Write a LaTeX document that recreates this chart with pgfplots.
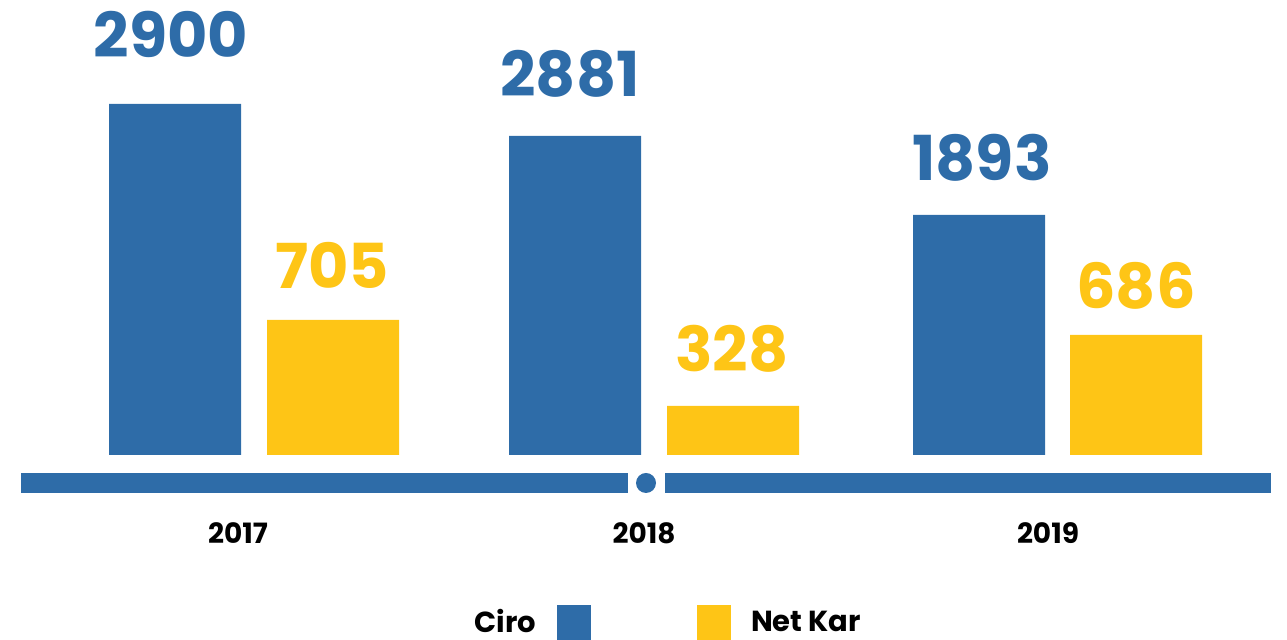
\documentclass[border=0pt]{standalone}
\usepackage{fontspec}
\setmainfont{Poppins}
\usepackage{pgfplots}
\pgfplotsset{compat=1.18}
\usepackage{pgfplotstable}
\definecolor{cblue}{RGB}{46,108,168}
\definecolor{cyellow}{RGB}{254,197,22}

% x = bar centre, h = drawn bar height, lx/ly = label centre, label = value shown
\pgfplotstableread{
x h lx ly label
175 351 171 420.5 2900
575 319 570 381 2881
979 240 982 297.5 1893
}\ciro
\pgfplotstableread{
x h lx ly label
333 135 332 189.5 705
733 49 732 106 328
1136 120 1136 169.5 686
}\netkar

\begin{document}
\begin{tikzpicture}
\begin{axis}[
  x=0.5pt, y=0.5pt,
  xmin=0, xmax=1287, ymin=-185, ymax=455,
  hide axis, clip=false,
]
\addplot[ybar, bar width=132, bar shift=0pt, fill=cblue, draw=none] table[x=x,y=h]{\ciro};
\addplot[ybar, bar width=132, bar shift=0pt, fill=cyellow, draw=none] table[x=x,y=h]{\netkar};
\addplot[draw=none, nodes near coords, point meta=explicit symbolic,
  nodes near coords align={center},
  every node near coord/.append style={font=\bfseries\fontsize{31}{31}\selectfont, text=cblue, inner sep=0pt}]
  table[x=lx,y=ly,meta=label]{\ciro};
\addplot[draw=none, nodes near coords, point meta=explicit symbolic,
  nodes near coords align={center},
  every node near coord/.append style={font=\bfseries\fontsize{31}{31}\selectfont, text=cyellow, inner sep=0pt}]
  table[x=lx,y=ly,meta=label]{\netkar};
% baseline with dot
\fill[cblue] (axis cs:21,-18) rectangle (axis cs:628,-38);
\fill[cblue] (axis cs:665,-18) rectangle (axis cs:1271,-38);
\fill[cblue] (axis cs:646,-28) circle[radius=5pt];
% year labels
\node[font=\bfseries\fontsize{14}{14}\selectfont, inner sep=0pt] at (axis cs:238,-78) {2017};
\node[font=\bfseries\fontsize{14}{14}\selectfont, inner sep=0pt] at (axis cs:644,-78) {2018};
\node[font=\bfseries\fontsize{14}{14}\selectfont, inner sep=0pt] at (axis cs:1048,-78) {2019};
% legend
\node[font=\bfseries\fontsize{14.5}{14.5}\selectfont, inner sep=0pt] at (axis cs:505.5,-166) {Ciro};
\fill[cblue] (axis cs:557,-150) rectangle (axis cs:591,-185);
\fill[cyellow] (axis cs:697,-150) rectangle (axis cs:731,-185);
\node[font=\bfseries\fontsize{14.5}{14.5}\selectfont, inner sep=0pt] at (axis cs:806,-166) {Net Kar};
\coordinate (sw) at (axis cs:0,-185);
\coordinate (ne) at (axis cs:1287,455);
\end{axis}
\pgfresetboundingbox
\path[use as bounding box] (sw) rectangle (ne);
\end{tikzpicture}
\end{document}
